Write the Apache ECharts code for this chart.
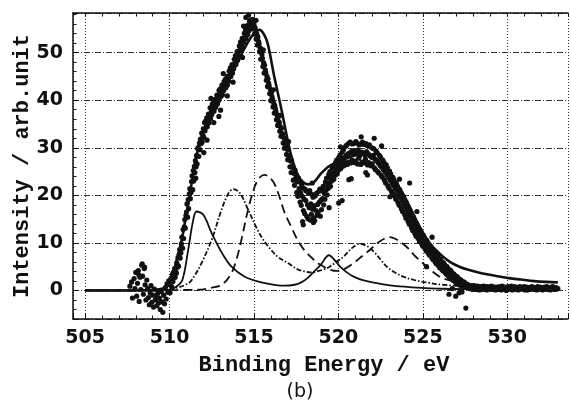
<!DOCTYPE html>
<html><head><meta charset="utf-8">
<script src="https://cdn.jsdelivr.net/npm/echarts@6/dist/echarts.min.js"></script>
<style>html,body{margin:0;padding:0;background:#fff}#c{width:571px;height:404px}</style>
</head><body><div id="c"></div><script>
const xRange = [504.28, 533.6];
const yRange = [-6, 58.34];
const xTickLabels = [505, 510, 515, 520, 525, 530];
const yTickLabels = [0, 10, 20, 30, 40, 50];
const xTitle = 'Binding Energy / eV';
const yTitle = 'Intensity / arb.unit';
const panelTag = '(b)';

const measured = [
[507.65,0.9],[507.75,1.8],[507.80,-1.6],[507.90,2.5],[507.95,0.4],[508.00,3.8],[508.05,-1.2],[508.10,1.5],[508.15,4.2],[508.18,3.3],[508.20,-2.3],[508.25,2.8],[508.30,0.2],[508.35,5.3],[508.38,5.6],[508.40,3.0],[508.45,-0.8],[508.50,4.6],[508.52,4.9],[508.55,1.2],[508.60,-2.0],[508.65,2.2],[508.70,0.4],[508.75,-1.5],[508.80,-3.0],[508.85,-0.5],[508.90,1.0],[508.95,-2.5],[509.00,-1.0],[509.05,-3.5],[509.10,0.3],[509.15,-2.0],[509.20,-1.2],[509.25,-3.2],[509.30,-0.6],[509.35,-2.6],[509.40,-1.6],[509.45,-4.0],[509.50,-0.2],[509.55,-2.4],[509.60,-4.6],[509.65,-1.0],[509.70,-2.8],[509.75,0.6],[509.80,-1.8],[509.85,1.4],[509.90,-0.4],[509.95,2.0],
[510.00,1.2],[510.03,-0.5],[510.07,2.4],[510.10,2.6],[510.13,0.8],[510.17,3.4],[510.20,1.9],[510.23,3.8],[510.27,2.7],[510.30,4.6],[510.33,2.8],[510.37,3.9],[510.40,3.6],[510.43,5.8],[510.47,4.9],
[510.50,6.9],[510.53,5.1],[510.57,7.6],[510.60,8.6],[510.63,6.8],[510.67,7.9],[510.70,9.8],[510.73,11.2],[510.77,8.9],[510.80,12.8],[510.83,10.9],[510.87,13.4],[510.90,14.9],[510.93,13.1],[510.97,15.8],
[511.00,16.5],[511.03,18.2],[511.07,15.4],[511.10,19.1],[511.13,17.2],[511.17,20.3],[511.20,21.4],[511.23,19.3],[511.27,20.6],[511.30,22.9],[511.33,24.1],[511.37,21.2],[511.40,25.2],[511.43,23.0],[511.47,26.1],
[511.50,24.8],[511.53,27.3],[511.57,26.0],[511.60,28.4],[511.63,26.6],[511.67,29.8],[511.70,30.1],[511.73,28.2],[511.77,31.0],[511.80,29.6],[511.83,31.8],[511.87,30.9],[511.90,33.1],[511.93,31.2],[511.97,32.6],
[512.00,34.0],[512.03,32.2],[512.07,35.3],[512.10,33.6],[512.13,35.6],[512.17,34.4],[512.20,36.3],[512.23,34.4],[512.27,35.9],[512.30,37.1],[512.33,35.2],[512.37,36.6],[512.40,38.4],[512.43,36.1],[512.47,37.5],
[512.50,37.0],[512.53,39.2],[512.57,38.1],[512.60,39.6],[512.63,37.7],[512.67,38.9],[512.70,40.2],[512.73,38.5],[512.77,39.7],[512.80,41.1],[512.83,39.2],[512.87,40.6],[512.90,40.0],[512.93,42.1],[512.97,41.3],
[513.00,42.4],[513.03,40.8],[513.07,41.9],[513.10,43.2],[513.13,41.1],[513.17,42.5],[513.20,42.0],[513.23,43.9],[513.27,42.8],[513.30,44.4],[513.33,42.6],[513.37,43.5],[513.40,45.0],[513.43,43.2],[513.47,44.3],
[513.50,44.0],[513.53,46.1],[513.57,45.2],[513.60,46.8],[513.63,45.0],[513.67,45.9],[513.70,47.5],[513.73,45.7],[513.77,46.9],[513.80,46.6],[513.83,48.6],[513.87,47.7],[513.90,49.4],[513.93,47.5],[513.97,48.8],
[514.00,50.2],[514.03,48.4],[514.07,49.5],[514.10,49.3],[514.13,51.4],[514.17,50.6],[514.20,52.2],[514.23,50.4],[514.27,51.6],[514.30,53.0],[514.33,51.1],[514.37,52.5],[514.40,52.2],[514.43,54.1],[514.47,53.3],
[514.50,54.9],[514.53,53.0],[514.57,54.3],[514.60,55.7],[514.63,53.8],[514.67,55.0],[514.70,54.6],[514.73,56.6],[514.77,55.9],[514.80,56.9],[514.83,55.0],[514.87,56.2],[514.90,55.2],[514.93,57.0],[514.97,56.1],
[515.00,55.9],[515.03,53.9],[515.07,55.2],[515.10,54.5],[515.13,52.8],[515.17,53.9],[515.20,51.6],[515.23,53.3],[515.27,52.4],[515.30,51.9],[515.33,50.2],[515.37,51.0],[515.40,48.6],[515.43,50.4],[515.47,49.6],
[515.50,48.8],[515.53,47.1],[515.57,47.9],[515.60,45.7],[515.63,47.4],[515.67,46.4],[515.70,45.8],[515.73,44.2],[515.77,45.0],[515.80,42.9],[515.83,44.5],[515.87,43.6],[515.90,43.0],[515.93,41.4],[515.97,42.3],
[516.00,39.9],[516.03,41.5],[516.07,40.7],[516.10,40.2],[516.13,38.6],[516.17,39.4],[516.20,37.3],[516.23,38.9],[516.27,38.2],[516.30,37.6],[516.33,35.9],[516.37,36.9],[516.40,34.7],[516.43,36.4],[516.47,35.5],
[516.50,35.2],[516.53,33.5],[516.57,34.4],[516.60,32.4],[516.63,34.1],[516.67,33.0],[516.70,32.9],[516.73,31.0],[516.77,32.1],[516.80,29.9],[516.83,31.7],[516.87,30.6],[516.90,30.5],[516.93,28.6],[516.97,29.7],
[517.00,27.5],[517.03,29.6],[517.07,28.3],[517.10,28.4],[517.13,26.0],[517.17,27.2],[517.20,24.8],[517.23,27.3],[517.27,25.9],[517.30,26.2],[517.33,23.2],[517.37,24.6],[517.40,22.1],[517.43,25.3],[517.47,23.6],
[517.50,24.4],[517.53,20.6],[517.57,22.9],[517.60,19.8],[517.63,23.7],[517.67,21.4],[517.70,22.8],[517.73,18.6],[517.77,20.6],[517.80,17.9],[517.83,22.2],[517.87,19.8],[517.90,21.6],[517.93,16.8],[517.97,19.2],[517.92,13.8],
[518.00,16.2],[518.03,21.3],[518.07,18.9],[518.10,20.9],[518.13,15.6],[518.17,18.0],[518.20,15.1],[518.23,20.5],[518.27,17.4],[518.30,21.0],[518.33,14.8],[518.37,18.2],[518.40,16.0],[518.43,20.2],[518.47,17.1],
[518.50,19.6],[518.53,15.2],[518.57,17.8],[518.60,14.7],[518.63,19.9],[518.67,16.8],[518.70,20.4],[518.73,15.8],[518.77,18.1],[518.80,16.4],[518.83,20.8],[518.87,18.6],[518.90,21.3],[518.93,15.6],[518.97,19.0],
[519.00,17.0],[519.03,21.0],[519.07,19.3],[519.10,21.9],[519.13,18.0],[519.17,20.4],[519.20,19.2],[519.23,22.8],[519.27,21.1],[519.30,23.6],[519.33,20.1],[519.37,22.0],[519.40,21.5],[519.43,24.4],[519.47,22.7],
[519.50,25.0],[519.53,21.9],[519.57,23.6],[519.60,23.0],[519.63,25.8],[519.67,24.4],[519.70,26.2],[519.73,23.4],[519.77,24.9],[519.80,24.2],[519.83,26.9],[519.87,25.4],[519.90,27.4],[519.93,24.5],[519.97,26.0],
[520.00,25.3],[520.03,28.0],[520.07,26.6],[520.02,18.4],[520.10,28.5],[520.13,25.6],[520.17,27.1],[520.20,26.0],[520.23,29.1],[520.27,27.6],[520.30,29.6],[520.33,26.2],[520.37,28.0],[520.40,26.9],[520.43,30.3],[520.47,28.4],
[520.50,30.6],[520.53,26.5],[520.57,28.7],[520.60,27.0],[520.63,31.0],[520.67,28.9],[520.62,23.3],[520.70,31.2],[520.73,26.8],[520.77,29.2],[520.80,27.4],[520.83,30.8],[520.87,28.6],[520.90,30.9],[520.93,26.9],[520.97,29.4],
[521.00,27.2],[521.03,31.3],[521.07,28.8],[521.10,31.0],[521.13,26.6],[521.17,29.5],[521.20,27.8],[521.23,30.6],[521.27,28.4],[521.30,30.8],[521.33,26.5],[521.37,29.1],[521.40,27.0],[521.43,31.2],[521.47,28.9],
[521.50,30.7],[521.53,26.8],[521.57,28.5],[521.60,27.6],[521.63,30.9],[521.67,29.2],[521.62,24.8],[521.70,30.5],[521.73,26.4],[521.77,28.7],[521.80,26.9],[521.83,30.6],[521.87,28.3],[521.90,30.2],[521.93,26.2],[521.97,28.0],
[522.00,26.6],[522.03,29.9],[522.07,28.4],[522.10,29.8],[522.13,25.8],[522.17,27.6],[522.12,32.0],[522.20,25.4],[522.23,29.3],[522.27,27.2],[522.30,28.9],[522.33,25.0],[522.37,26.8],[522.40,24.7],[522.43,28.4],[522.47,26.3],
[522.50,28.0],[522.53,24.2],[522.57,25.9],[522.60,23.8],[522.63,27.4],[522.67,25.4],[522.70,26.9],[522.73,23.2],[522.77,24.9],[522.80,22.6],[522.83,26.4],[522.87,24.3],[522.90,25.8],[522.93,22.0],[522.97,23.8],
[523.00,21.5],[523.03,25.1],[523.07,23.2],[523.05,19.7],[523.10,24.5],[523.13,20.9],[523.17,22.6],[523.20,20.4],[523.23,23.8],[523.27,22.0],[523.30,23.2],[523.33,19.8],[523.37,21.4],[523.40,19.2],[523.43,22.5],[523.47,20.8],
[523.50,21.9],[523.53,18.5],[523.57,20.2],[523.60,17.9],[523.63,21.2],[523.67,19.5],[523.70,20.5],[523.73,17.2],[523.77,18.9],[523.80,16.6],[523.83,19.8],[523.87,18.2],[523.90,19.1],[523.93,15.9],[523.97,17.5],
[524.00,15.2],[524.03,18.4],[524.07,16.8],[524.10,17.7],[524.13,14.5],[524.17,16.1],[524.20,13.9],[524.23,16.9],[524.27,15.4],[524.22,22.6],[524.30,16.2],[524.33,13.2],[524.37,14.7],[524.40,12.6],[524.43,15.5],[524.47,14.0],
[524.50,14.8],[524.53,12.0],[524.57,13.4],[524.60,11.4],[524.63,14.1],[524.67,12.8],[524.70,13.4],[524.73,10.9],[524.77,12.2],[524.80,10.3],[524.83,12.8],[524.87,11.6],[524.90,12.2],[524.93,9.8],[524.97,11.0],
[525.00,9.3],[525.03,11.6],[525.07,10.4],[525.10,11.0],[525.13,8.8],[525.17,9.9],[525.20,8.3],[525.23,10.5],[525.27,9.4],[525.22,5.0],[525.30,9.9],[525.33,7.8],[525.37,8.9],[525.40,7.4],[525.43,9.4],[525.47,8.4],
[525.50,8.9],[525.53,6.9],[525.57,7.9],[525.60,6.5],[525.63,8.4],[525.67,7.4],[525.70,7.9],[525.73,6.0],[525.77,6.9],[525.80,5.6],[525.83,7.4],[525.87,6.5],[525.90,7.0],[525.93,5.2],[525.97,6.1],
[526.00,4.8],[526.03,6.6],[526.07,5.7],[526.10,6.2],[526.13,4.4],[526.17,5.3],[526.20,4.1],[526.23,5.8],[526.27,4.9],[526.30,5.4],[526.33,3.7],[526.37,4.5],[526.40,3.4],[526.43,5.0],[526.47,4.2],
[526.50,4.6],[526.53,3.0],[526.57,3.8],[526.55,-0.8],[526.60,2.7],[526.63,4.3],[526.67,3.5],[526.70,3.9],[526.73,2.4],[526.77,3.1],[526.75,0.4],[526.80,2.1],[526.83,3.5],[526.87,2.8],[526.90,3.2],[526.93,1.8],[526.97,2.5],[526.95,-1.2],
[527.00,1.5],[527.03,2.9],[527.07,2.2],[527.10,2.6],[527.13,1.3],[527.17,1.9],[527.15,-0.5],[527.20,1.1],[527.23,2.3],[527.27,1.7],[527.30,2.0],[527.33,0.9],[527.37,1.5],[527.32,-0.3],[527.40,0.8],[527.43,1.8],[527.47,1.3],
[527.50,1.6],[527.53,0.7],[527.57,1.1],[527.55,-3.7],
[527.60,0.6],[527.65,1.3],[527.70,1.1],[527.75,0.4],[527.80,0.5],[527.85,1.0],[527.90,0.9],[527.95,0.2],[528.00,0.4],[528.05,1.0],[528.10,0.8],[528.15,0.2],[528.20,0.3],[528.25,0.9],[528.30,0.7],[528.35,0.1],[528.40,0.2],[528.45,0.8],[528.50,0.6],[528.55,0.3],[528.60,0.9],[528.65,0.2],[528.70,0.4],[528.75,0.8],[528.80,0.1],[528.85,0.6],[528.90,0.7],[528.95,0.3],
[529.00,0.3],[529.05,0.9],[529.10,0.8],[529.15,0.2],[529.20,0.4],[529.25,0.7],[529.30,0.1],[529.35,0.6],[529.40,0.7],[529.45,0.3],[529.50,0.2],[529.55,0.8],[529.60,0.6],[529.65,0.1],[529.70,0.9],[529.75,0.4],[529.80,0.3],[529.85,0.7],[529.90,0.6],[529.95,0.0],
[530.00,0.2],[530.05,0.8],[530.10,0.7],[530.15,0.3],[530.20,0.4],[530.25,0.9],[530.30,0.1],[530.35,0.6],[530.40,0.8],[530.45,0.3],[530.50,0.3],[530.55,0.7],[530.60,0.6],[530.65,0.1],[530.70,0.2],[530.75,0.8],[530.80,0.7],[530.85,0.4],[530.90,0.3],[530.95,0.6],
[531.00,0.8],[531.05,0.1],[531.10,0.4],[531.15,0.7],[531.20,0.1],[531.25,0.5],[531.30,0.6],[531.35,0.2],[531.40,0.3],[531.45,0.8],[531.50,0.7],[531.55,0.4],[531.60,0.2],[531.65,0.6],[531.70,0.5],[531.75,0.1],[531.80,0.8],[531.85,0.3],[531.90,0.3],[531.95,0.7],
[532.00,0.6],[532.05,0.2],[532.10,0.1],[532.15,0.5],[532.20,0.7],[532.25,0.3],[532.30,0.4],[532.35,0.8],[532.40,0.2],[532.45,0.6],[532.50,0.6],[532.55,0.1],[532.60,0.3],[532.65,0.7],[532.70,0.8],[532.75,0.4],[532.80,0.2],[532.85,0.5],[532.90,0.6],[532.95,0.3],[533.00,0.4]
];

const measuredStray = [
[511.55,23.6],[512.03,29.0],[512.22,31.6],[512.62,35.3],[512.92,36.6],[513.02,37.9],[513.42,40.9],[513.76,43.8],[514.32,49.0],[514.52,57.4],[514.68,57.9],[515.12,56.8],[514.38,55.6],[513.18,45.6],[512.45,40.4],
[515.55,50.6],[516.15,42.2],[516.55,36.8],[517.05,31.3],
[517.88,14.5],[518.52,14.3],[520.22,18.9],[520.76,23.5],[521.72,24.3],[519.45,17.4],[518.45,22.6],[522.56,30.4],[521.35,32.3],[520.12,30.2],[523.62,23.4],[524.65,16.6],[525.55,11.2]
];

const totalFit = [[505,0],[508,0],[509,0.1],[509.6,0.4],[510,1.5],[510.37,5.7],[510.76,11.3],[510.96,15.5],[511.15,19],[511.35,23.5],[511.6,28.5],[512.1,34],[512.5,36.8],[512.9,39.4],[513.5,44.3],[514.06,48.2],[514.5,51.3],[514.9,53.6],[515.33,54.8],[515.6,53.8],[515.82,51.8],[516.2,45],[516.63,38],[517.03,31],[517.3,27.2],[517.6,24.2],[517.9,22.8],[518.2,22.3],[518.56,22.8],[518.95,24.5],[519.4,26.0],[519.95,27.0],[520.4,27.7],[521,28.4],[521.5,28.6],[522,28.2],[522.4,27.3],[522.86,25.6],[523.3,23.3],[523.84,20.3],[524.2,17.8],[524.6,14.9],[525.0,12.2],[525.4,10.0],[525.8,8.4],[526.2,7.1],[526.7,5.8],[527.2,4.95],[527.7,4.35],[528.3,3.8],[528.9,3.35],[529.5,2.95],[530.1,2.6],[530.8,2.3],[531.6,1.97],[532.3,1.8],[533,1.7]];

const peakSolid = [[505,0],[509,0],[510,0.15],[510.4,0.8],[510.76,2.2],[511.1,8.5],[511.4,14.8],[511.6,16.6],[512.0,15.9],[512.5,12.0],[513.1,7.9],[513.67,5.0],[514.45,2.9],[515.43,1.7],[516.2,1.2],[516.8,1.0],[517.4,1.2],[517.8,1.7],[518.17,2.6],[518.6,4.1],[518.95,5.4],[519.44,7.4],[519.8,6.3],[520.1,5.0],[520.5,3.8],[520.9,2.9],[521.5,2.1],[522.27,1.55],[523.2,1.0],[524.2,0.7],[526.2,0.36],[530,0.25],[533,0.2]];

const peakDashDot = [[505,0],[509.5,0],[510.35,0.5],[511.13,1.55],[511.5,3.2],[511.9,5.8],[512.5,10.7],[513.08,17.0],[513.5,20.5],[513.77,21.3],[514.16,20.5],[514.65,17.0],[515.2,12.8],[515.6,10.4],[516.0,8.6],[516.4,7.1],[517.0,5.8],[517.6,4.4],[518.0,4.0],[518.36,3.8],[518.8,4.1],[519.34,4.7],[519.8,5.8],[520.3,7.1],[520.8,8.9],[521.26,9.8],[521.7,9.3],[522.08,8.2],[522.5,6.5],[522.86,5.0],[523.3,3.9],[523.84,2.9],[524.5,2.2],[525.2,1.7],[526.2,1.2],[528,0.8],[530,0.55],[533,0.4]];

const peakLongDash = [[505,0],[511.7,0.15],[512.5,0.6],[513.1,1.2],[513.67,3.7],[514.0,7.0],[514.26,10.7],[514.65,17.0],[515.04,21.8],[515.35,23.8],[515.63,24.3],[515.9,23.8],[516.2,22.5],[516.5,19.8],[516.8,16.5],[517.2,13.4],[517.6,10.5],[517.97,8.55],[518.56,6.4],[518.95,5.4],[519.4,4.5],[519.93,4.1],[520.4,4.6],[520.9,5.75],[521.4,7.2],[521.88,8.55],[522.4,10.2],[523.05,11.2],[523.5,10.6],[524.03,9.2],[524.5,7.4],[525.0,5.75],[525.5,4.2],[526.0,2.9],[526.6,2.1],[527.36,1.55],[528.5,1.1],[530.1,0.85],[533,0.5]];

const INK = '#111';
const near = (arr, v) => arr.some(t => Math.abs(t - v) < 1e-6);

const chart = echarts.init(document.getElementById('c'), null, {renderer: 'canvas'});
const minorTick = len => ({show: true, inside: true, length: len, lineStyle: {color: INK, width: 1}});
const curve = (name, data, width, type) => ({type: 'line', name, data, smooth: 0.35, symbol: 'none',
  lineStyle: {color: INK, width, type}, z: 4});

chart.setOption({
  animation: false,
  backgroundColor: '#fff',
  grid: {left: 73, top: 13, right: -1, bottom: 85, containLabel: false},
  xAxis: [
    {type: 'value', min: xRange[0], max: xRange[1], minInterval: 5, maxInterval: 5, position: 'bottom',
     axisLine: {show: true, onZero: false, lineStyle: {color: INK, width: 1.5}},
     axisTick: {show: true, inside: true, length: 6, lineStyle: {color: INK, width: 1}},
     axisLabel: {show: true, margin: 10, color: INK, fontFamily: 'DejaVu Sans', fontWeight: 'bold', fontSize: 19,
       formatter: v => near(xTickLabels, v) ? String(Math.round(v)) : ''},
     splitLine: {show: true, lineStyle: {color: '#333', width: 1, type: [1, 2]}}},
    {type: 'value', min: xRange[0], max: xRange[1], minInterval: 1, maxInterval: 1, position: 'bottom',
     axisLine: {show: false, onZero: false}, axisTick: minorTick(3.5), axisLabel: {show: false}, splitLine: {show: false}},
    {type: 'value', min: xRange[0], max: xRange[1], minInterval: 1, maxInterval: 1, position: 'top',
     axisLine: {show: true, onZero: false, lineStyle: {color: INK, width: 1.5}}, axisTick: minorTick(3.5), axisLabel: {show: false}, splitLine: {show: false}}
  ],
  yAxis: [
    {type: 'value', min: yRange[0], max: yRange[1], minInterval: 10, maxInterval: 10, position: 'left',
     axisLine: {show: true, onZero: false, lineStyle: {color: INK, width: 1.5}},
     axisTick: {show: true, inside: true, length: 6, lineStyle: {color: INK, width: 1}},
     axisLabel: {show: true, margin: 10, color: INK, fontFamily: 'DejaVu Sans', fontWeight: 'bold', fontSize: 19,
       formatter: v => near(yTickLabels, v) ? String(Math.round(v)) : ''},
     splitLine: {show: true, lineStyle: {color: '#333', width: 1, type: [6, 2, 1, 2]}}},
    {type: 'value', min: yRange[0], max: yRange[1], minInterval: 2, maxInterval: 2, position: 'left',
     axisLine: {show: false, onZero: false}, axisTick: minorTick(3.5), axisLabel: {show: false}, splitLine: {show: false}}
  ],
  series: [
    {type: 'scatter', name: 'measured', data: measured.concat(measuredStray), symbol: 'circle', symbolSize: 5.2,
     itemStyle: {color: INK, opacity: 1}, xAxisIndex: 0, yAxisIndex: 0, z: 3},
    curve('peakSolid', peakSolid, 1.8, 'solid'),
    curve('peakDashDot', peakDashDot, 1.8, [5, 2, 1.5, 2]),
    curve('peakLongDash', peakLongDash, 1.8, [9, 5]),
    Object.assign(curve('totalFit', totalFit, 2.6, 'solid'), {z: 5})
  ],
  graphic: [
    {type: 'text', x: 324, y: 365, style: {text: xTitle, font: 'bold 22px "Liberation Mono"', fill: INK,
      align: 'center', verticalAlign: 'middle', textAlign: 'center', textVerticalAlign: 'middle'}},
    {type: 'text', x: 22, y: 166, rotation: Math.PI / 2, style: {text: yTitle, font: 'bold 22px "Liberation Mono"', fill: INK,
      align: 'center', verticalAlign: 'middle', textAlign: 'center', textVerticalAlign: 'middle'}},
    {type: 'text', x: 300, y: 392, style: {text: panelTag, font: '19px "DejaVu Sans"', fill: INK,
      align: 'center', verticalAlign: 'middle', textAlign: 'center', textVerticalAlign: 'middle'}}
  ]
});
</script></body></html>
